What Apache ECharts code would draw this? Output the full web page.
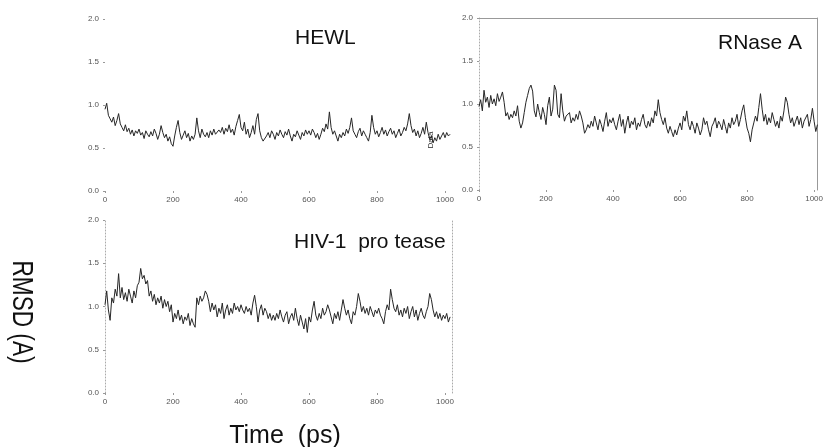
<!DOCTYPE html>
<html>
<head>
<meta charset="utf-8">
<script src="https://cdn.jsdelivr.net/npm/echarts@6/dist/echarts.min.js"></script>
<style>html,body{margin:0;padding:0;background:#fff}#c{width:826px;height:447px}</style>
</head>
<body>
<div id="c"></div>
<script>
// Sampling interval of the trajectories (ps)
const timeStep = 5;
const xTicks = [0, 200, 400, 600, 800, 1000];
const yTicks = [0, 0.5, 1.0, 1.5, 2.0];
const panelTitles = ['HEWL', 'RNase A', 'HIV-1  pro tease'];
const yAxisTitle = 'RMSD (A)';
const xAxisTitle = 'Time  (ps)';

const hewl = [
0.95,1.02,0.88,0.84,0.80,0.86,0.76,0.82,0.90,0.78,0.74,0.70,0.77,0.69,0.73,0.66,0.71,0.64,0.70,0.67,
0.72,0.65,0.68,0.61,0.70,0.66,0.63,0.69,0.64,0.72,0.67,0.60,0.66,0.76,0.68,0.62,0.66,0.58,0.63,0.55,
0.52,0.64,0.74,0.82,0.68,0.60,0.65,0.70,0.62,0.67,0.58,0.64,0.60,0.66,0.85,0.70,0.62,0.72,0.66,0.63,
0.68,0.62,0.70,0.65,0.72,0.66,0.64,0.71,0.68,0.74,0.66,0.73,0.69,0.77,0.68,0.72,0.65,0.75,0.82,0.89,
0.74,0.70,0.80,0.66,0.72,0.62,0.68,0.76,0.66,0.83,0.90,0.70,0.62,0.58,0.60,0.64,0.68,0.62,0.70,0.66,
0.60,0.68,0.64,0.71,0.66,0.62,0.69,0.65,0.72,0.64,0.58,0.66,0.63,0.70,0.65,0.60,0.68,0.64,0.71,0.66,
0.70,0.65,0.72,0.68,0.62,0.67,0.60,0.66,0.73,0.69,0.78,0.72,0.92,0.74,0.66,0.70,0.64,0.58,0.66,0.62,
0.68,0.64,0.72,0.67,0.74,0.85,0.70,0.66,0.62,0.69,0.73,0.64,0.70,0.66,0.62,0.58,0.68,0.88,0.74,0.66,
0.70,0.63,0.68,0.74,0.66,0.71,0.64,0.69,0.73,0.66,0.70,0.62,0.67,0.72,0.64,0.68,0.74,0.70,0.78,0.90,
0.76,0.68,0.72,0.64,0.70,0.62,0.67,0.74,0.66,0.80,0.68,0.60,0.64,0.56,0.62,0.58,0.66,0.60,0.64,0.68,
0.62,0.68,0.64,0.66
];

const rnase = [
0.97,1.05,0.92,1.16,1.02,1.08,0.96,1.10,1.00,1.06,0.98,1.12,1.03,1.08,1.14,1.02,0.86,0.90,0.82,0.88,
0.84,0.92,0.86,0.98,0.80,0.72,0.78,0.90,1.02,1.10,1.18,1.22,1.15,0.92,0.85,1.00,0.90,0.82,0.96,0.88,
0.76,0.98,1.08,0.86,0.94,1.22,1.16,0.88,0.84,1.12,0.92,0.80,0.86,0.84,0.90,0.78,0.84,0.80,0.88,0.82,
0.92,0.86,0.78,0.66,0.70,0.76,0.72,0.80,0.74,0.86,0.78,0.70,0.82,0.76,0.68,0.80,0.90,0.74,0.82,0.78,
0.84,0.76,0.70,0.80,0.88,0.74,0.82,0.66,0.78,0.86,0.72,0.80,0.76,0.84,0.70,0.78,0.74,0.82,0.88,0.76,
0.72,0.80,0.74,0.84,0.78,0.92,0.86,1.05,0.90,0.82,0.76,0.84,0.72,0.66,0.74,0.68,0.62,0.70,0.64,0.72,
0.78,0.70,0.86,0.80,0.92,0.76,0.70,0.80,0.74,0.66,0.78,0.72,0.64,0.70,0.84,0.76,0.80,0.70,0.62,0.74,
0.78,0.84,0.72,0.80,0.76,0.70,0.82,0.74,0.66,0.78,0.72,0.84,0.76,0.80,0.88,0.74,0.82,0.92,0.99,0.84,
0.72,0.66,0.56,0.70,0.78,0.86,0.80,0.96,1.12,0.94,0.80,0.88,0.76,0.84,0.78,0.90,0.82,0.74,0.80,0.72,
0.86,0.80,0.92,1.08,1.02,0.88,0.78,0.84,0.74,0.80,0.86,0.76,0.84,0.72,0.80,0.78,0.88,0.74,0.82,0.95,
0.80,0.68,0.76
];

const hiv = [
1.02,1.18,0.96,0.84,1.10,1.04,1.20,1.12,1.38,1.10,1.22,1.08,1.16,1.06,1.20,1.12,1.04,1.18,1.10,1.24,
1.28,1.44,1.32,1.36,1.26,1.30,1.12,1.18,1.06,1.14,1.02,1.10,1.04,1.12,0.98,1.08,1.00,1.06,0.94,1.02,
0.82,0.92,0.86,0.96,0.84,0.90,0.80,0.88,0.84,0.92,0.78,0.86,0.80,0.76,1.10,1.02,1.12,1.06,1.10,1.18,
1.14,1.06,0.94,1.04,0.96,1.02,0.88,0.98,0.92,1.04,0.86,0.96,1.02,0.90,0.98,0.92,1.04,0.96,1.00,0.94,
1.02,0.96,0.92,1.00,0.94,0.98,0.90,1.04,1.13,1.00,0.82,0.96,1.02,0.90,0.98,0.94,0.86,0.92,0.84,0.90,
0.84,0.92,0.86,0.96,0.88,0.82,0.90,0.94,0.80,0.88,0.92,0.84,0.98,0.86,0.78,0.90,0.82,0.74,0.86,0.70,
0.88,0.82,0.96,1.06,0.90,0.84,0.92,0.86,0.98,0.90,0.94,1.02,0.96,0.88,0.80,0.92,0.86,0.94,0.84,0.96,
1.08,0.98,0.90,0.96,0.86,0.80,0.94,0.90,1.00,1.15,1.06,0.94,1.00,0.92,0.98,0.90,1.00,0.94,0.88,0.96,
0.92,0.98,0.90,0.86,0.80,0.94,1.02,0.96,1.20,1.08,0.98,0.94,1.02,0.90,0.96,0.88,0.98,0.92,1.00,0.86,
0.94,1.00,0.88,0.96,0.84,0.92,0.98,0.90,0.86,0.94,1.00,1.15,1.08,0.96,0.88,0.94,0.86,0.92,0.84,0.90,
0.86,0.92,0.82,0.88
];

const toPairs = arr => arr.map((v, i) => [i * timeStep, v]);

const FONT = 'Liberation Sans, Arial, sans-serif';
const tickLabelStyle = { fontSize: 8, color: '#555', fontFamily: FONT };
const dotted = { color: '#aaa', type: [1, 2], width: 1 };
const solidGray = { color: '#999', type: 'solid', width: 1 };

function mainX(grid, max) {
  return {
    type: 'value', gridIndex: grid, min: 0, max: max, interval: 200,
    axisLine: { show: false, onZero: false },
    axisTick: { show: true, length: 2, lineStyle: { color: '#999' }, customValues: xTicks },
    axisLabel: Object.assign({ margin: 5, customValues: xTicks, formatter: v => String(v) }, tickLabelStyle),
    splitLine: { show: false }
  };
}
function mainY(grid, withLine) {
  return {
    type: 'value', gridIndex: grid, min: 0, max: 2, interval: 0.5,
    axisLine: withLine ? { show: true, onZero: false, lineStyle: dotted } : { show: false, onZero: false },
    axisTick: { show: true, length: 2, lineStyle: { color: '#999' } },
    axisLabel: Object.assign({ margin: 6, formatter: v => v.toFixed(1) }, tickLabelStyle),
    splitLine: { show: false }
  };
}
function borderAxis(grid, pos, min, max, style) {
  return {
    type: 'value', gridIndex: grid, position: pos, min: min, max: max,
    axisLine: { show: true, onZero: false, lineStyle: style },
    axisTick: { show: false }, axisLabel: { show: false }, splitLine: { show: false }
  };
}

const lineSeries = (data, xi, yi) => ({
  type: 'line', xAxisIndex: xi, yAxisIndex: yi, data: toPairs(data),
  showSymbol: false, symbol: 'none',
  lineStyle: { color: '#262626', width: 1 },
  animation: false
});

const chart = echarts.init(document.getElementById('c'), null, { renderer: 'canvas' });
chart.setOption({
  backgroundColor: '#fff',
  animation: false,
  grid: [
    { left: 105, top: 19, width: 346.8, height: 172 },
    { left: 479, top: 18, width: 343.4, height: 172 },
    { left: 105, top: 220, width: 346.8, height: 173 }
  ],
  xAxis: [
    mainX(0, 1020),
    mainX(1, 1010),
    mainX(2, 1020),
    borderAxis(1, 'top', 0, 1010, solidGray)
  ],
  yAxis: [
    mainY(0, false),
    mainY(1, true),
    mainY(2, true),
    borderAxis(1, 'right', 0, 2, solidGray),
    borderAxis(2, 'right', 0, 2, dotted)
  ],
  title: [
    { text: panelTitles[0], left: 290, top: 23, textStyle: { fontSize: 21, fontWeight: 'normal', color: '#111', fontFamily: FONT } },
    { text: panelTitles[1], left: 713, top: 28, textStyle: { fontSize: 21, fontWeight: 'normal', color: '#111', fontFamily: FONT } },
    { text: panelTitles[2], left: 289, top: 227, textStyle: { fontSize: 21, fontWeight: 'normal', color: '#111', fontFamily: FONT } }
  ],
  graphic: [
    { type: 'text', x: 21, y: 312, rotation: -Math.PI / 2, scaleX: 0.78,
      style: { text: yAxisTitle, fontSize: 29, fontFamily: FONT, fill: '#111', align: 'center', verticalAlign: 'middle' } },
    { type: 'text', x: 285, y: 436,
      style: { text: xAxisTitle, fontSize: 25, fontFamily: FONT, fill: '#111', align: 'center', verticalAlign: 'middle' } },
    { type: 'text', x: 431, y: 140, rotation: Math.PI / 2,
      style: { text: 'Data', fontSize: 8, fontFamily: FONT, fill: '#222', align: 'center', verticalAlign: 'middle' } }
  ],
  series: [
    lineSeries(hewl, 0, 0),
    lineSeries(rnase, 1, 1),
    lineSeries(hiv, 2, 2)
  ]
});
</script>
</body>
</html>
